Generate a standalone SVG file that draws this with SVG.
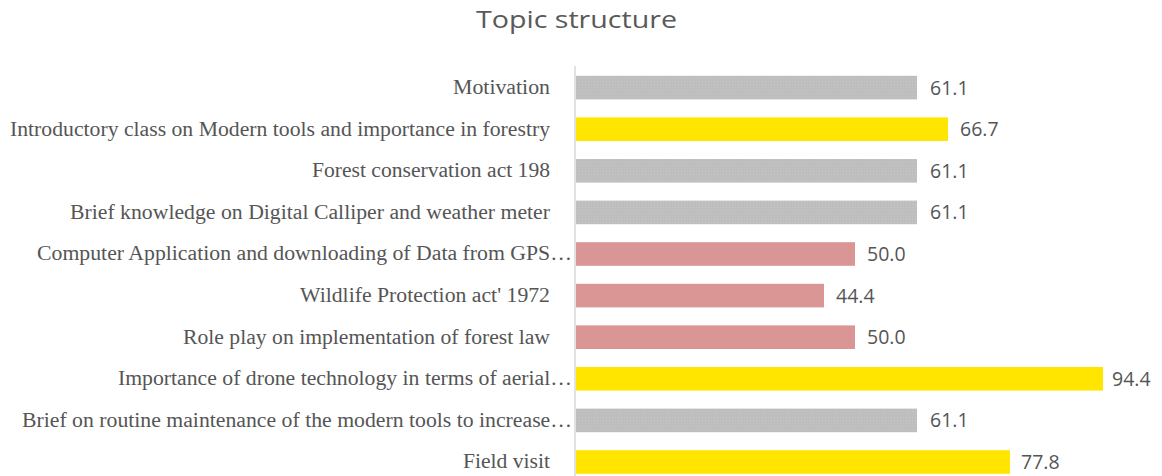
<svg xmlns="http://www.w3.org/2000/svg" width="1162" height="476" viewBox="0 0 1162 476">
<style>
.lbl{font-family:"Liberation Serif","Times New Roman",serif;font-size:20px;fill:#555555;text-anchor:end}
.val{font-family:"Open Sans","Liberation Sans",sans-serif;font-size:19.5px;fill:#555555}
.title{font-family:"Open Sans","Liberation Sans",sans-serif;font-size:24px;fill:#595959}
.gray{fill:url(#dots)}
.yel{fill:#ffe500}
.pink{fill:#d99694}
</style>
<defs>
<pattern id="dots" width="3" height="3" patternUnits="userSpaceOnUse">
<rect width="3" height="3" fill="#bebebe"/>
<rect x="0" y="0" width="1" height="1" fill="#c6c6c6"/>
</pattern>
</defs>
<rect width="1162" height="476" fill="#ffffff"/>
<text class="title" x="476" y="28" textLength="201" lengthAdjust="spacingAndGlyphs">Topic structure</text>
<g id="axis"><line x1="575" y1="66" x2="575" y2="476" stroke="#d9d9d9" stroke-width="1.5"/></g>
<g id="connectors"></g>
<g id="bar0"><rect class="gray" x="576" y="75.8" width="341" height="23.6"/><text class="lbl" x="550" y="94" textLength="97" lengthAdjust="spacingAndGlyphs">Motivation</text><text class="val" x="930" y="94.5">61.1</text></g>
<g id="bar1"><rect class="yel" x="576" y="117.4" width="372" height="23.6"/><text class="lbl" x="550" y="135.6" textLength="540" lengthAdjust="spacingAndGlyphs">Introductory class on Modern tools and importance in forestry</text><text class="val" x="960" y="136.1">66.7</text></g>
<g id="bar2"><rect class="gray" x="576" y="159" width="341" height="23.6"/><text class="lbl" x="550" y="177.2" textLength="238" lengthAdjust="spacingAndGlyphs">Forest conservation act 198</text><text class="val" x="930" y="177.7">61.1</text></g>
<g id="bar3"><rect class="gray" x="576" y="200.6" width="341" height="23.6"/><text class="lbl" x="550" y="218.8" textLength="480" lengthAdjust="spacingAndGlyphs">Brief knowledge on Digital Calliper and weather meter</text><text class="val" x="930" y="219.3">61.1</text></g>
<g id="bar4"><rect class="pink" x="576" y="242.2" width="279" height="23.6"/><text class="lbl" x="572" y="260.4" textLength="535" lengthAdjust="spacingAndGlyphs">Computer Application and downloading of Data from GPS…</text><text class="val" x="867" y="260.9">50.0</text></g>
<g id="bar5"><rect class="pink" x="576" y="283.8" width="248" height="23.6"/><text class="lbl" x="550" y="302" textLength="250" lengthAdjust="spacingAndGlyphs">Wildlife Protection act' 1972</text><text class="val" x="836" y="302.5">44.4</text></g>
<g id="bar6"><rect class="pink" x="576" y="325.4" width="279" height="23.6"/><text class="lbl" x="550" y="343.6" textLength="367" lengthAdjust="spacingAndGlyphs">Role play on implementation of forest law</text><text class="val" x="867" y="344.1">50.0</text></g>
<g id="bar7"><rect class="yel" x="576" y="367" width="527" height="23.6"/><text class="lbl" x="572" y="385.2" textLength="454" lengthAdjust="spacingAndGlyphs">Importance of drone technology in terms of aerial…</text><text class="val" x="1112" y="385.7">94.4</text></g>
<g id="bar8"><rect class="gray" x="576" y="408.6" width="341" height="23.6"/><text class="lbl" x="572" y="426.8" textLength="550" lengthAdjust="spacingAndGlyphs">Brief on routine maintenance of the modern tools to increase…</text><text class="val" x="930" y="427.3">61.1</text></g>
<g id="bar9"><rect class="yel" x="576" y="450.2" width="434" height="23.6"/><text class="lbl" x="550" y="468.4" textLength="87" lengthAdjust="spacingAndGlyphs">Field visit</text><text class="val" x="1021" y="468.9">77.8</text></g>
</svg>
